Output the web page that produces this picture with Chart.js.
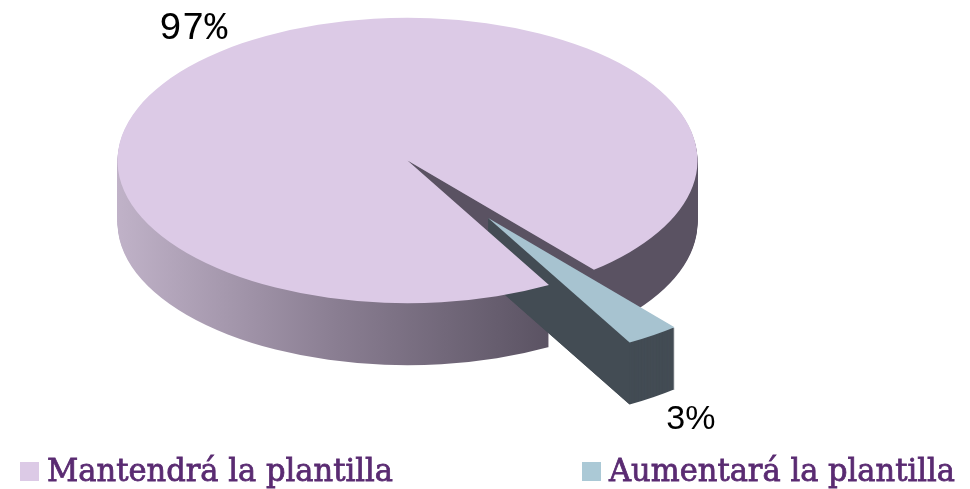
<!DOCTYPE html>
<html>
<head>
<meta charset="utf-8">
<script src="https://cdn.jsdelivr.net/npm/chart.js@4.4.1/dist/chart.umd.min.js"></script>
<style>
    html, body { margin: 0; padding: 0; background: #fff; }
    #wrap { width: 970px; height: 489px; }
</style>
</head>
<body>
<div id="wrap"><canvas id="myChart" width="970" height="489"></canvas></div>
<script>
const labels = ['Mantendrá la plantilla', 'Aumentará la plantilla']
const values = [97, 3]
const topColors = ['#dccae6', '#a7c3d0']
const legendColors = ['#dccae6', '#abc9d6']

// 3d look: flatten the pie, extrude it downwards
const tilt = 0.492
const depth = 62

const shade = (ctx, i, cx, R) => {
    if (i == 0) {
        const g = ctx.createLinearGradient(cx - R, 0, cx + R * 0.5, 0)
        g.addColorStop(0, '#c0b2c8')
        g.addColorStop(0.5, '#8a7e92')
        g.addColorStop(1, '#5a5262')
        return g
    }
    return '#434c54'
}

const pie3d = {
    id: 'pie3d',
    beforeDatasetsDraw(chart) {
        const ctx = chart.ctx
        const arcs = chart.getDatasetMeta(0).data
        const cx = arcs[0].x
        const cy = arcs[0].y

        const slices = arcs.map((a, i) => {
            const off = a.options.offset || 0
            const mid = (a.startAngle + a.endAngle) / 2
            return { a, i, ox: Math.cos(mid) * off, oy: Math.sin(mid) * off, mid }
        })

        const flat = (dy) => {
            ctx.translate(0, dy)
            ctx.translate(cx, cy)
            ctx.scale(1, tilt)
            ctx.translate(-cx, -cy)
        }
        const slicePath = (s) => {
            const a = s.a
            ctx.beginPath()
            ctx.moveTo(a.x + s.ox, a.y + s.oy)
            ctx.arc(a.x + s.ox, a.y + s.oy, a.outerRadius, a.startAngle, a.endAngle)
            ctx.closePath()
        }
        // screen point of the top face
        const pt = (s, ang, r) => [
            cx + s.ox + Math.cos(ang) * r,
            cy + (s.oy + Math.sin(ang) * r) * tilt
        ]

        // sides, back to front
        slices.forEach(s => {
            const R = s.a.outerRadius
            ctx.fillStyle = shade(ctx, s.i, cx, R)
            for (let d = depth; d > 0; d--) {
                ctx.save()
                flat(d)
                slicePath(s)
                ctx.fill()
                ctx.restore()
            }
            // cut walls facing the viewer
            const walls = []
            if (Math.cos(s.a.endAngle) > 0) walls.push(s.a.endAngle)
            if (Math.cos(s.a.startAngle) < 0) walls.push(s.a.startAngle)
            ctx.fillStyle = s.i == 0 ? '#5a5262' : '#434c54'
            walls.forEach(ang => {
                const c = pt(s, 0, 0)
                const p = pt(s, ang, R)
                ctx.beginPath()
                ctx.moveTo(c[0], c[1])
                ctx.lineTo(p[0], p[1])
                ctx.lineTo(p[0], p[1] + depth)
                ctx.lineTo(c[0], c[1] + depth)
                ctx.closePath()
                ctx.fill()
            })
        })

        // top faces
        slices.forEach(s => {
            ctx.save()
            flat(0)
            slicePath(s)
            ctx.fillStyle = s.a.options.backgroundColor
            ctx.fill()
            ctx.restore()
        })

        // percentage labels
        const total = values.reduce((t, v) => t + v, 0)
        slices.forEach(s => {
            const R = s.a.outerRadius * 1.07
            const p = pt(s, s.mid, R)
            const down = Math.sin(s.mid) > 0
            const right = Math.cos(s.mid) > 0
            const txt = Math.round(values[s.i] / total * 100) + '%'
            ctx.save()
            ctx.fillStyle = '#000'
            ctx.font = s.i == 0 ? '38px "Liberation Mono"' : '34px "Liberation Sans"'
            ctx.textAlign = right ? 'left' : 'right'
            ctx.textBaseline = down ? 'top' : 'alphabetic'
            ctx.fillText(txt, p[0] + (right ? 2 : -4), down ? p[1] + depth - 3 : p[1] + 4)
            ctx.restore()
        })
        return false
    },
    afterDraw(chart) {
        // legend row at the bottom
        const ctx = chart.ctx
        const xs = [20, 582]
        const baseline = 481
        const textWidth = 346
        ctx.save()
        ctx.font = '32px "DejaVu Serif"'
        ctx.textBaseline = 'alphabetic'
        chart.data.labels.forEach((lab, i) => {
            ctx.fillStyle = legendColors[i]
            ctx.fillRect(xs[i], 462, 19, 19)
            ctx.fillStyle = '#5a2b72'
            ctx.strokeStyle = '#5a2b72'
            ctx.lineWidth = 0.8
            const w = ctx.measureText(lab).width
            ctx.save()
            ctx.translate(xs[i] + 27, baseline)
            ctx.scale(textWidth / w, 1)
            ctx.fillText(lab, 0, 0)
            ctx.strokeText(lab, 0, 0)
            ctx.restore()
        })
        ctx.restore()
    }
}

myChart = new Chart(document.getElementById('myChart'), {
    type: 'pie',
    data: {
        labels: labels,
        datasets: [{
            data: values,
            backgroundColor: topColors,
            borderWidth: 0,
            offset: [0, 142],
            clip: false
        }]
    },
    options: {
        responsive: false,
        animation: false,
        rotation: 150.8,
        radius: 290,
        layout: { padding: { left: 0, right: 155, top: 0, bottom: 168 } },
        events: [],
        plugins: {
            legend: { display: false },
            tooltip: { enabled: false }
        }
    },
    plugins: [pie3d]
});
</script>
</body>
</html>
